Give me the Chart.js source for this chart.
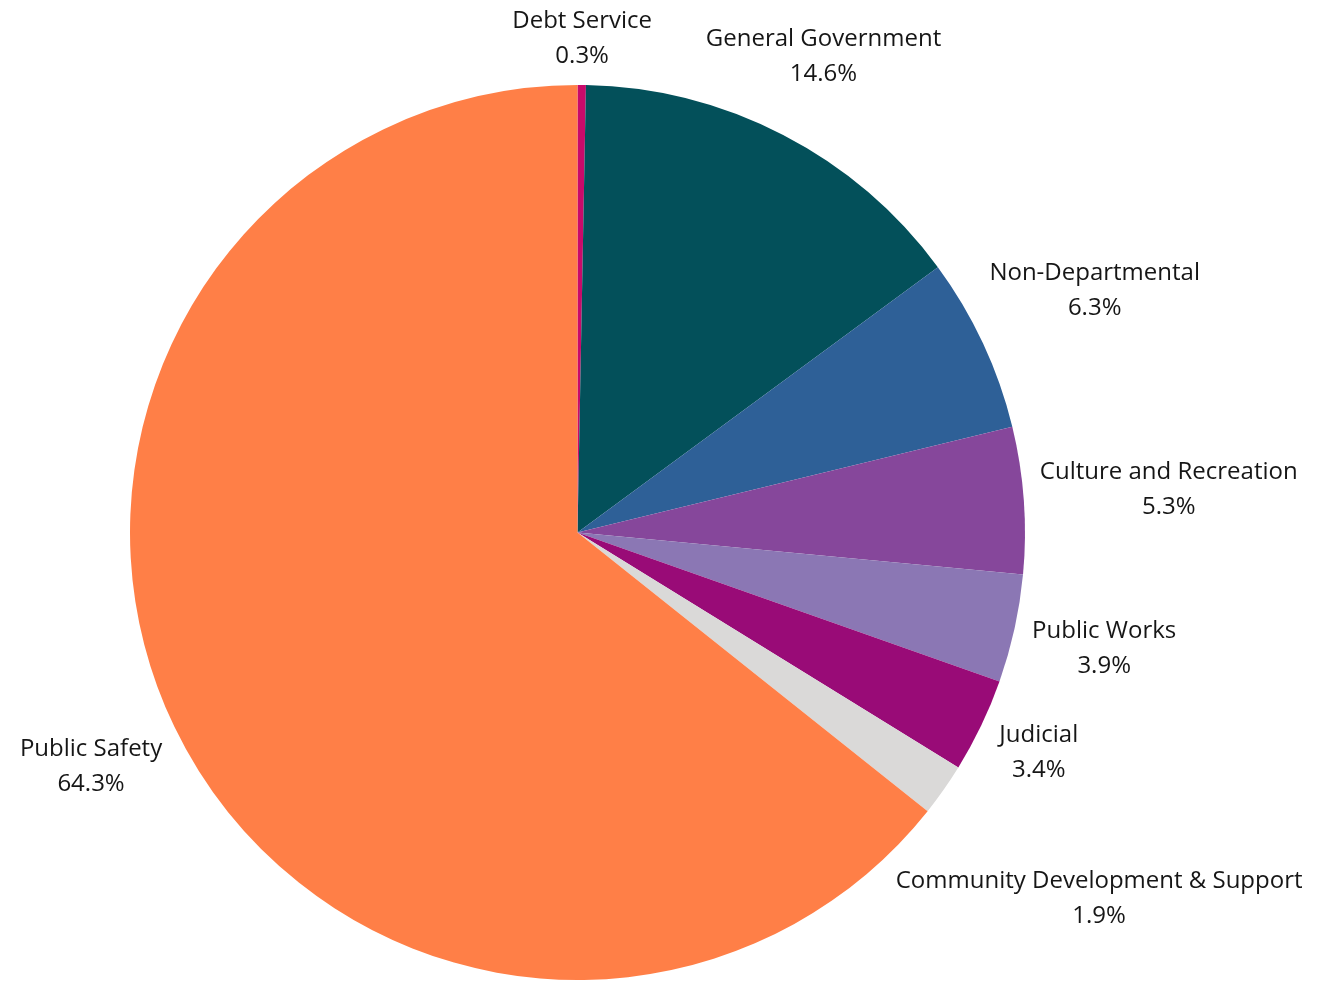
<!DOCTYPE html>
<html>
<head>
<meta charset="utf-8">
<title>General Fund Expenditures</title>
<script src="https://cdn.jsdelivr.net/npm/chart.js@4.4.1/dist/chart.umd.min.js"></script>
<style>
  html, body { margin: 0; padding: 0; background: #ffffff; }
  #grafico-gastos { display: block; }
</style>
</head>
<body>
<canvas id="grafico-gastos" width="1331" height="981"></canvas>
<script>
// Expenditure shares by function, clockwise from 12 o'clock
const categories = [
  "Debt Service",
  "General Government",
  "Non-Departmental",
  "Culture and Recreation",
  "Public Works",
  "Judicial",
  "Community Development & Support",
  "Public Safety"
];
const shares = [0.3, 14.6, 6.3, 5.3, 3.9, 3.4, 1.9, 64.3];
const sliceColors = [
  "#c90a6a",
  "#03505a",
  "#2e6097",
  "#86479b",
  "#8b77b4",
  "#990b77",
  "#dad9d8",
  "#ff7f47"
];

const LABEL_FONT = "400 24px 'Open Sans', sans-serif";
const LABEL_COLOR = "#161616";
const LINE_GAP = 35;    // distance between name and percentage
const HALF_BOX = 31;    // half height of a two-line label
const CLEARANCE = 15;   // space between pie edge and label box

// Labels sit on the bisector of each slice, pushed out until the box clears the pie
const outsideLabels = {
  id: "outsideLabels",
  afterDatasetsDraw(chart) {
    const ctx = chart.ctx;
    const arcs = chart.getDatasetMeta(0).data;

    ctx.save();
    ctx.font = LABEL_FONT;
    ctx.fillStyle = LABEL_COLOR;
    ctx.textAlign = "center";
    ctx.textBaseline = "middle";

    arcs.forEach((arc, i) => {
      const p = arc.getProps(["x", "y", "startAngle", "endAngle", "outerRadius"], true);
      const mid = (p.startAngle + p.endAngle) / 2;
      const lines = [categories[i], shares[i].toFixed(1) + "%"];
      const halfW = Math.max(...lines.map(l => ctx.measureText(l).width)) / 2;
      const limit = p.outerRadius + CLEARANCE;

      let lo = 0, hi = 1200;
      for (let k = 0; k < 40; k++) {
        const d = (lo + hi) / 2;
        const cx = p.x + Math.cos(mid) * d;
        const cy = p.y + Math.sin(mid) * d;
        const nx = Math.max(cx - halfW, Math.min(p.x, cx + halfW));
        const ny = Math.max(cy - HALF_BOX, Math.min(p.y, cy + HALF_BOX));
        if (Math.hypot(nx - p.x, ny - p.y) < limit) lo = d; else hi = d;
      }

      const cx = p.x + Math.cos(mid) * hi;
      const cy = p.y + Math.sin(mid) * hi;
      ctx.fillText(lines[0], cx, cy - LINE_GAP / 2);
      ctx.fillText(lines[1], cx, cy + LINE_GAP / 2);
    });

    ctx.restore();
  }
};

const grafico = new Chart(document.getElementById("grafico-gastos"), {
  type: "pie",
  data: {
    labels: categories,
    datasets: [{
      data: shares,
      backgroundColor: sliceColors,
      borderWidth: 0
    }]
  },
  options: {
    responsive: false,
    animation: false,
    layout: {
      padding: { left: 130, right: 306, top: 85, bottom: 1 }
    },
    plugins: {
      legend: { display: false },
      tooltip: { enabled: false }
    }
  },
  plugins: [outsideLabels]
});
</script>
</body>
</html>
